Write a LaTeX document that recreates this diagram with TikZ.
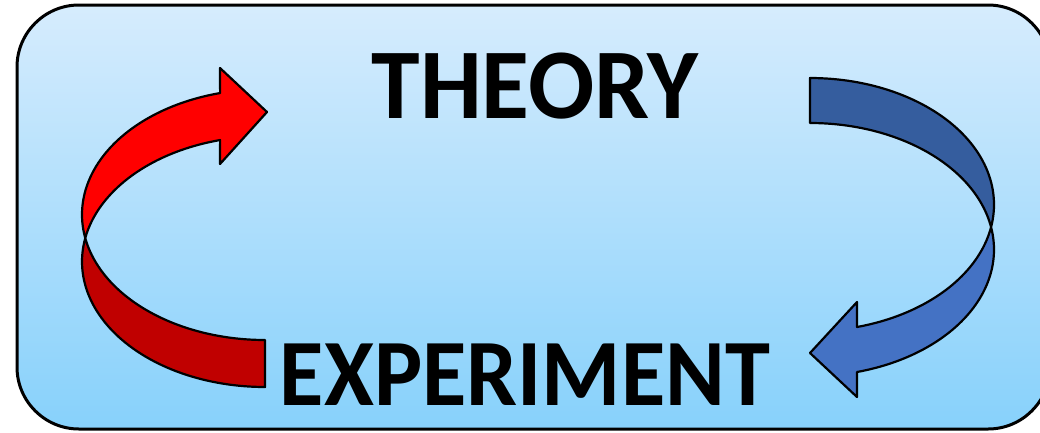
\documentclass[tikz,border=0pt]{standalone}
\usepackage{fontspec}
\setmainfont{Carlito}
\definecolor{bgtop}{RGB}{214,236,253}
\definecolor{bgbot}{RGB}{135,209,251}
\definecolor{redA}{RGB}{255,0,0}
\definecolor{redB}{RGB}{192,0,0}
\definecolor{blueA}{RGB}{53,93,158}
\definecolor{blueB}{RGB}{68,114,196}
\begin{document}
\begin{tikzpicture}[x=1pt,y=-1pt,
  band/.style={draw=black, line width=2.2pt, line join=round},
  word/.style={font=\bfseries, inner sep=0pt, anchor=base}]
\useasboundingbox (0,0) rectangle (1040,432);
% background panel
\path[draw=black, line width=3pt, rounded corners=62pt, top color=bgtop, bottom color=bgbot]
  (17,5) rectangle (1050,429);
% red arrow: upper (front) band with head
\path[band, fill=redA]
  plot[domain=169.2:255.8, samples=60] ({265+183*cos(\x)},{214.6+125.4*sin(\x)})
  -- (220,68) -- (267,112) -- (220,164)
  -- plot[domain=255.8:190.8, samples=60] ({265+183*cos(\x)},{261.6+125.4*sin(\x)})
  -- cycle;
% red arrow: lower (back) band
\path[band, fill=redB]
  plot[domain=190.8:90, samples=60] ({265+183*cos(\x)},{261.6+125.4*sin(\x)})
  -- (265,340)
  -- plot[domain=90:169.2, samples=60] ({265+183*cos(\x)},{214.6+125.4*sin(\x)})
  -- cycle;
% blue arrow: upper (back) band
\path[band, fill=blueA]
  plot[domain=-90:10.24, samples=60] ({810+184*cos(\x)},{204.6+126.6*sin(\x)})
  -- plot[domain=-10.24:-90, samples=60] ({810+184*cos(\x)},{249.6+126.6*sin(\x)})
  -- cycle;
% blue arrow: lower (front) band with head
\path[band, fill=blueB]
  plot[domain=-10.24:75.2, samples=60] ({810+184*cos(\x)},{249.6+126.6*sin(\x)})
  -- (857,397) -- (810,353) -- (857,302)
  -- plot[domain=75.2:10.24, samples=60] ({810+184*cos(\x)},{204.6+126.6*sin(\x)})
  -- cycle;
% words
\node[word] (theory) at (535,118) {\fontsize{100}{100}\selectfont\scalebox{0.98}[1]{THEORY}};
\node[word] (experiment) at (525,405) {\fontsize{95}{95}\selectfont\scalebox{0.955}[1]{EXPERIMENT}};
\end{tikzpicture}
\end{document}
